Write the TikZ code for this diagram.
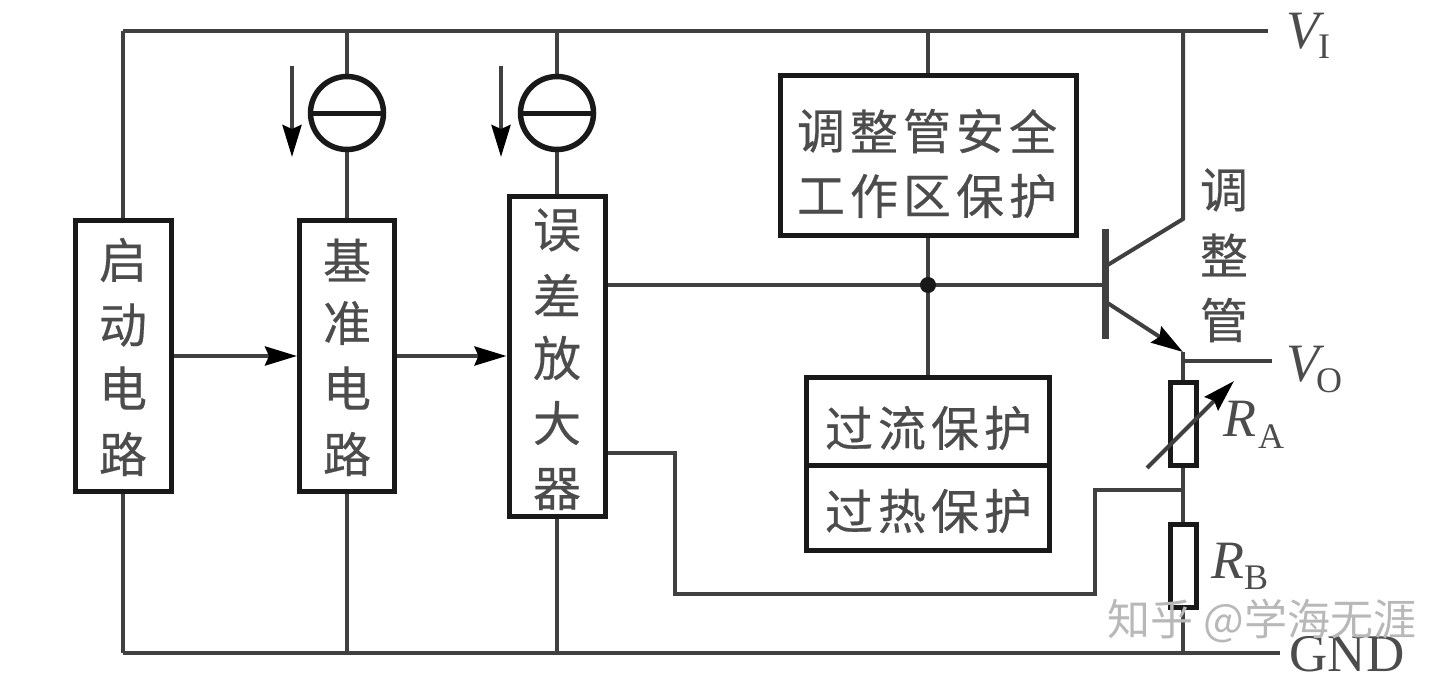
\documentclass[tikz,border=0pt]{standalone}
\usepackage{fontspec}
\setmainfont{Liberation Serif}
\newfontfamily\cjk[FakeBold=0.4]{Noto Sans CJK SC}
\newfontfamily\wmfont{Noto Sans CJK SC}
\usetikzlibrary{arrows.meta}
\definecolor{ink}{gray}{0.25}
\definecolor{txt}{gray}{0.3}
\definecolor{boxink}{gray}{0.1}
\tikzset{
 wire/.style={line width=4pt,draw=ink},
 boxn/.style={draw=boxink,line width=5pt,fill=white,inner sep=0pt},
 cn/.style={font=\cjk\fontsize{48pt}{48pt}\selectfont,text=txt,inner sep=0pt},
 lab/.style={font=\fontsize{54pt}{54pt}\selectfont\itshape,text=txt,inner sep=0pt},
 subs/.style={font=\fontsize{36pt}{36pt}\selectfont\upshape,text=txt,inner sep=0pt},
 tip/.style={-{Stealth[length=32pt,width=19pt,inset=4pt,color=black]}},
 arr/.style={wire,tip},
 src/.style={circle,draw=boxink,line width=5.5pt,fill=white,minimum size=73pt,inner sep=0pt}
}
\begin{document}
\begin{tikzpicture}[x=1pt,y=-1pt]
\useasboundingbox (0,0) rectangle (1455,680);
\coordinate (tl) at (123,31);
\coordinate (tr) at (1268,31);
\coordinate (bl) at (123,653);
\coordinate (br) at (1280,653);
\coordinate (t1) at (347,31);
\coordinate (t2) at (557,31);
\coordinate (t3) at (928,31);
\coordinate (v1) at (1183,31);
\coordinate (b2) at (347,653);
\coordinate (b3) at (557,653);
\coordinate (b4) at (1183,653);
\coordinate (cc) at (1183,219);
\coordinate (cb) at (1106,266);
\coordinate (eb) at (1106,302);
\coordinate (ee) at (1183,352);
\coordinate (vo) at (1183,361);
\coordinate (voe) at (1272,361);
\coordinate (mid) at (1183,490);
\coordinate (mid2) at (1095,490);
\coordinate (fb) at (1095,594);
\coordinate (fb2) at (675,594);
\coordinate (fb3) at (675,453);
\coordinate (dot) at (928,285);
\coordinate (base) at (1105,285);
\coordinate (bar1) at (1105,229);
\coordinate (bar2) at (1105,339);
\coordinate (rs) at (1147,468);
\coordinate (re) at (1234,381);
\coordinate (a1s) at (292,66);
\coordinate (a1e) at (292,157);
\coordinate (a2s) at (501,66);
\coordinate (a2e) at (501,157);
\coordinate (d1) at (806,465);
\coordinate (d2) at (1051,465);

\draw[wire] (tl)--(tr);
\draw[wire] (bl)--(br);
\draw[wire] (tl)--(bl);
\draw[wire] (t1)--(b2);
\draw[wire] (t2)--(b3);
\draw[wire] (t3)--(dot);
\draw[wire] (dot)--(928,400);
\draw[wire] (v1)--(cc)--(cb);
\draw[wire] (vo)--(b4);
\draw[wire] (vo)--(voe);
\draw[wire] (ee)--(vo);

\node[boxn,minimum width=96,minimum height=271] (qd) at (123,356) {};
\node[boxn,minimum width=95,minimum height=271] (jz) at (347,356) {};
\node[boxn,minimum width=96,minimum height=320] (wc) at (557,356) {};
\node[boxn,minimum width=296,minimum height=160] (aq) at (928,155) {};
\node[boxn,minimum width=243,minimum height=173] (gl) at (928,464) {};
\node[src] (s1) at (347,113) {};
\node[src] (s2) at (557,113) {};
\node[boxn,minimum width=26,minimum height=83] (ra) at (1183,424) {};
\node[boxn,minimum width=26,minimum height=83] (rb) at (1183,566) {};

\draw[wire] (wc.east |- dot)--(base);
\fill[boxink] (dot) circle (8);
\draw[line width=7pt,draw=ink] (bar1)--(bar2);
\draw[arr] (eb)--(ee);
\draw[wire] (mid)--(mid2)--(fb)--(fb2)--(fb3)--(wc.east |- fb3);
\draw[arr] (qd.east)--(jz.west);
\draw[arr] (jz.east)--(wc.west);
\draw[arr] (rs)--(re);
\draw[arr] (a1s)--(a1e);
\draw[arr] (a2s)--(a2e);
\draw[line width=5pt,draw=boxink] (s1.west)--(s1.east);
\draw[line width=5pt,draw=boxink] (s2.west)--(s2.east);
\draw[line width=5pt,draw=boxink] (d1)--(d2);

\foreach \t/\y in {启/260,动/325,电/388,路/454}{\node[cn] at (123,\y) {\t};}
\foreach \t/\y in {基/260,准/323,电/388,路/454}{\node[cn] at (347,\y) {\t};}
\foreach \t/\y in {误/230,差/295,放/358,大/423,器/489}{\node[cn] at (557,\y) {\t};}
\foreach \t/\x in {调/821,整/874,管/927,安/980,全/1033}{\node[cn] at (\x,131) {\t};}
\foreach \t/\x in {工/821,作/874,区/927,保/980,护/1033}{\node[cn] at (\x,196) {\t};}
\foreach \t/\x in {过/849,流/902,保/955,护/1008}{\node[cn] at (\x,428) {\t};}
\foreach \t/\x in {过/849,热/902,保/955,护/1008}{\node[cn] at (\x,511) {\t};}
\foreach \t/\y in {调/190,整/255,管/320}{\node[cn] at (1224,\y) {\t};}
\node[lab] (lv1) at (1303,31) {V};
\node[subs] (lv1s) at (1324,47) {I};
\node[lab] (lvo) at (1303,364) {V};
\node[subs] (lvos) at (1329,381) {O};
\node[lab] (lra) at (1240,419) {R};
\node[subs] (lras) at (1271,437) {A};
\node[lab] (lrb) at (1228,561) {R};
\node[subs] (lrbs) at (1256,578) {B};
\node[font=\fontsize{53pt}{53pt}\selectfont,text=txt,inner sep=0pt] (gnd) at (1347,654) {GND};
\node[font=\wmfont\fontsize{43pt}{43pt}\selectfont,text=black!28,inner sep=0pt] (wm) at (1262,621) {知乎 @学海无涯};
\end{tikzpicture}
\end{document}
